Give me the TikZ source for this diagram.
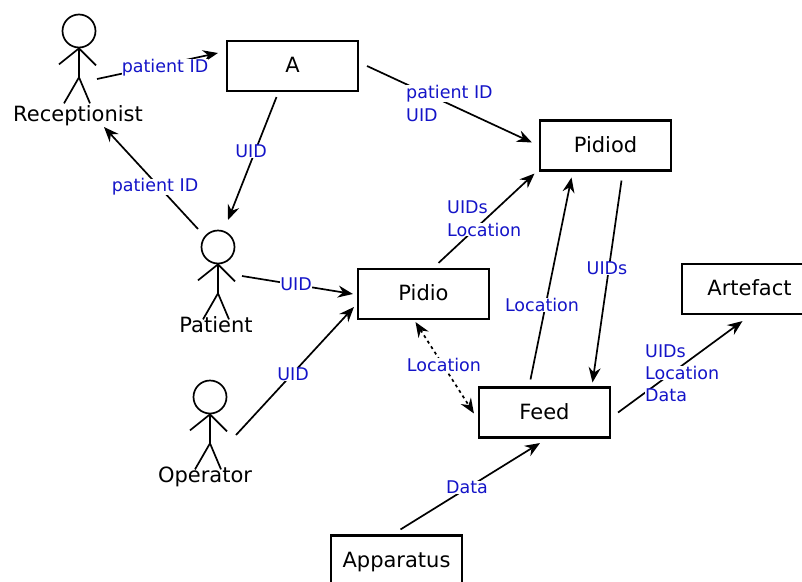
\documentclass[tikz,border=0pt]{standalone}
\usepackage{fontspec}
\setmainfont{DejaVu Sans}
\usetikzlibrary{arrows.meta, positioning}

\begin{document}
\begin{tikzpicture}[
    x=1pt, y=-1pt,
    box/.style={rectangle, draw, line width=2.1pt, minimum width=131pt, minimum height=50pt, inner sep=0pt, text height=13pt, text depth=0pt, align=center, font=\fontsize{21}{25}\selectfont},
    name_lbl/.style={inner sep=0pt, font=\fontsize{21}{25}\selectfont},
    lbl/.style={fill=white, inner sep=0pt, text=lblblue, font=\fontsize{17.5}{21}\selectfont},
    arrow/.style={-{Stealth[length=15pt, width=12pt, inset=5pt]}, line width=1.7pt},
    both_arrow/.style={{Stealth[length=15pt, width=12pt, inset=5pt]}-{Stealth[length=15pt, width=12pt, inset=5pt]}, line width=1.7pt, dash pattern=on 3pt off 3.5pt},
    head/.style={circle, draw, line width=1.7pt, minimum size=33pt, inner sep=0pt},
    limb/.style={line width=1.7pt}
]
\definecolor{lblblue}{RGB}{20,20,200}
\useasboundingbox (0,0) rectangle (802,581);

% ACTEURS
\node[head] (recept_head) at (79,31) {};
\draw[limb] (recept_head.south) -- ++(0,29) coordinate (recept_hip) -- ++(-15,26);
\draw[limb] (recept_hip) -- ++(11,26);
\draw[limb] (recept_head.south) -- ++(-20,16);
\draw[limb] (recept_head.south) -- ++(17,17);
\node[name_lbl] (recept) at (78,116) {Receptionist};

\node[head] (patient_head) at (218,247) {};
\draw[limb] (patient_head.south) -- ++(0,29) coordinate (patient_hip) -- ++(-15,26);
\draw[limb] (patient_hip) -- ++(11,26);
\draw[limb] (patient_head.south) -- ++(-20,16);
\draw[limb] (patient_head.south) -- ++(17,17);
\node[name_lbl] (patient) at (216,325) {Patient};

\node[head] (operator_head) at (210,397) {};
\draw[limb] (operator_head.south) -- ++(0,29) coordinate (operator_hip) -- ++(-15,26);
\draw[limb] (operator_hip) -- ++(11,26);
\draw[limb] (operator_head.south) -- ++(-20,16);
\draw[limb] (operator_head.south) -- ++(17,17);
\node[name_lbl] (operator) at (205,477) {Operator};

% BOITES
\node[box] (a) at (292.5,66) {A};
\node[box] (pidiod) at (605.5,145.5) {Pidiod};
\node[box] (pidio) at (423.5,294) {Pidio};
\node[box] (feed) at (544.5,412.5) {Feed};
\node[box, minimum width=135pt] (artefact) at (749.5,289) {Artefact};
\node[box] (apparatus) at (396.5,560.5) {Apparatus};

% FLECHES
\draw[arrow] ([xshift=18pt,yshift=-48pt]recept_head.center) -- ([xshift=-8pt,yshift=13pt]a.center -| a.west);
\draw[arrow] ([xshift=8pt]a.east) -- ([xshift=-7pt,yshift=3pt]pidiod.west);
\draw[arrow] ([xshift=-16pt,yshift=-5pt]a.south) -- ([xshift=10pt,yshift=27pt]patient_head.center);
\draw[arrow] ([xshift=-20pt,yshift=18pt]patient_head.center) -- ([xshift=26pt,yshift=-11pt]recept.center);
\draw[arrow] ([xshift=24pt,yshift=-29pt]patient_head.center) -- ([xshift=-4pt]pidio.west);
\draw[arrow] ([xshift=26pt,yshift=-38pt]operator_head.center) -- ([xshift=-3pt,yshift=-13pt]pidio.west);
\draw[arrow] ([xshift=15pt,yshift=5pt]pidio.north) -- ([xshift=-71pt,yshift=-2pt]pidiod.south);
\draw[arrow] ([xshift=-14pt,yshift=7pt]feed.north) -- ([xshift=-34pt,yshift=-6pt]pidiod.south);
\draw[arrow] ([xshift=16pt,yshift=-9pt]pidiod.south) -- ([xshift=48pt,yshift=4pt]feed.north);
\draw[both_arrow] ([xshift=-8pt,yshift=-2pt]pidio.south) -- ([xshift=-4pt,yshift=-1pt]feed.west);
\draw[arrow] ([xshift=7pt]feed.east) -- ([xshift=-7pt,yshift=-6pt]artefact.south);
\draw[arrow] ([xshift=4pt,yshift=5pt]apparatus.north) -- ([xshift=-4.5pt,yshift=-4.5pt]feed.south);

% ETIQUETTES
\node[lbl] (lbl_recept_a) at (165,67.5) {patient ID};
\node[lbl] (lbl_a_patient) at (251,151) {UID};
\node[lbl] (lbl_patient_recept) at (155,187) {patient ID};
\node[lbl, anchor=west] (lbl_a_pidiod_1) at (406,93.5) {patient ID};
\node[lbl, anchor=west] (lbl_a_pidiod_2) at (406,115) {UID};
\node[lbl, anchor=west] (lbl_pidio_pidiod_1) at (447,207.5) {UIDs};
\node[lbl, anchor=west] (lbl_pidio_pidiod_2) at (447,229.5) {Location};
\node[lbl] (lbl_patient_pidio) at (296,284) {UID};
\node[lbl] (lbl_operator_pidio) at (293,374) {UID};
\node[lbl] (lbl_pidio_feed) at (444,365) {Location};
\node[lbl] (lbl_feed_pidiod) at (542,305) {Location};
\node[lbl] (lbl_pidiod_feed) at (607,268) {UIDs};
\node[lbl, anchor=west] (lbl_feed_art_1) at (645,351) {UIDs};
\node[lbl, anchor=west] (lbl_feed_art_2) at (645,373) {Location};
\node[lbl, anchor=west] (lbl_feed_art_3) at (645,395) {Data};
\node[lbl] (lbl_app_feed) at (467,487) {Data};

\end{tikzpicture}
\end{document}
